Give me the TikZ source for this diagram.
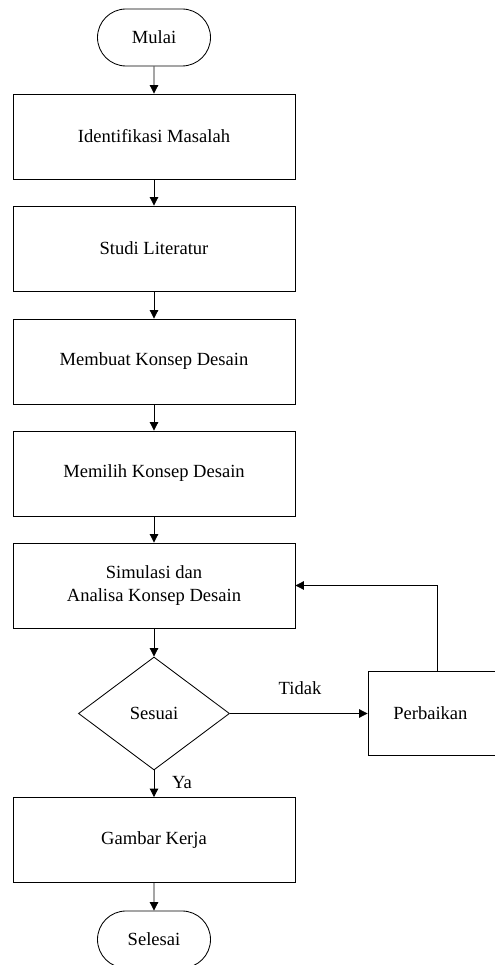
\documentclass[tikz,border=0pt]{standalone}
\usepackage{fontspec}
\setmainfont{Liberation Serif}
\usepackage{tikz}
\usetikzlibrary{arrows.meta,shapes}

\begin{document}
\begin{tikzpicture}[font=\fontsize{13.2}{16}\selectfont, line width=0.6pt,
    boxnode/.style={rectangle, draw=black, inner sep=0pt, minimum width=7.05cm, minimum height=2.125cm, align=center},
    termnode/.style={rounded rectangle, draw=black, inner sep=0pt, minimum width=2.825cm, minimum height=1.425cm},
    decnode/.style={diamond, draw=black, inner sep=0pt, aspect=1.336, minimum width=3.775cm, minimum height=2.825cm},
    arr/.style={-{Triangle[length=2.1mm,width=2.1mm]}}]

    \useasboundingbox (0,0) rectangle (12.35,24.125);

    %\foreach \i [count=\ni] in {20.7125,17.9125,...,9.4875}
        %\node[boxnode] at (3.85,\i) (u\ni) {};

    \node[termnode](u1) at (3.85,23.1875) {Mulai};
    \node[boxnode](u2) at (3.85,20.7125) {Identifikasi Masalah};
    \node[boxnode](u3) at (3.85,17.9125) {Studi Literatur};
    \node[boxnode](u4) at (3.85,15.0875) {Membuat Konsep Desain};
    \node[boxnode](u5) at (3.85,12.2875) {Memilih Konsep Desain};
    \node[boxnode](u6) at (3.85,9.4875) {Simulasi dan\\Analisa Konsep Desain};
    \node[decnode](u7) at (3.85,6.2875) {Sesuai};
    \node[boxnode, minimum width=3.45cm, minimum height=2.1cm](u8) at (10.925,6.2875) {};
    \node(u8t) at (10.76,6.2875) {Perbaikan};
    \node[boxnode](u9) at (3.85,3.125) {Gambar Kerja};
    \node[termnode](u10) at (3.85,0.6375) {Selesai};

    \node(l1) at (7.5,6.925) {Tidak};
    \node(l2) at (4.55,4.55) {Ya};

    \draw[arr] (u1) -- (u2);
    \draw[arr] (u2) -- (u3);
    \draw[arr] (u3) -- (u4);
    \draw[arr] (u4) -- (u5);
    \draw[arr] (u5) -- (u6);
    \draw[arr] (u6) -- (u7);
    \draw[arr] (u7) -- (u9);
    \draw[arr] (u7) -- (u8);
    \draw[arr] (u8.north) |- (u6.east);
    \draw[arr] (u9) -- (u10);

\end{tikzpicture}
\end{document}
